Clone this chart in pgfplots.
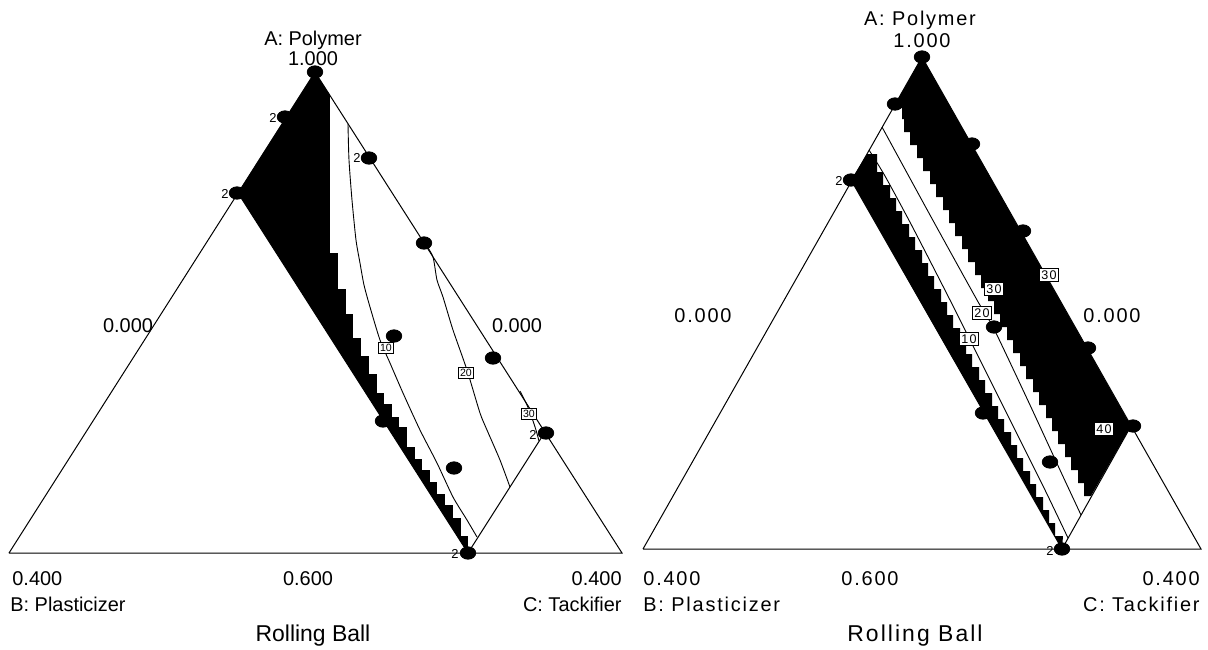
\documentclass[border=0pt]{standalone}
\usepackage{pgfplots}
\pgfplotsset{compat=1.18}
\usepackage{fontspec}
\setmainfont{Liberation Sans}
\newfontfamily\widefont[LetterSpace=9]{Liberation Sans}
\newcommand{\fs}[1]{\fontsize{#1}{#1}\selectfont}
\pgfplotsset{
  tern/.style={scale only axis, hide axis, clip=false, y dir=reverse, ymin=0, ymax=650, height=325bp},
  edge/.style={black, line width=0.5bp},
  cont/.style={black, line width=0.45bp, smooth, tension=0.4},
  pts/.style={only marks, mark=*, mark size=3.1bp, mark options={xscale=1.25, fill=black, draw=black}},
}
\tikzset{
  lab/.style={font=\fs{10}, inner sep=0pt},
  rep/.style={font=\fs{6.5}, inner sep=0pt, anchor=east},
  clab/.style={draw, fill=white, font=\fs{5.3}, inner sep=0.8bp, line width=0.35bp},
  clabr/.style={draw, fill=white, font=\widefont\fs{6.3}, inner sep=0.9bp, line width=0.35bp},
}
\begin{document}
\begin{tikzpicture}
% ---------------- left ternary plot ----------------
\begin{axis}[tern, at={(0,0)}, anchor=south west, width=315bp, xmin=0, xmax=630]
\addplot[fill=black, draw=none] coordinates {
(315,72) (330,95) (330,253) (338,253) (338,289) (346,289) (346,314) (353,314)
(353,338) (361,338) (361,356) (369,356) (369,374) (377,374) (377,393) (384,393)
(384,404) (392,404) (392,417) (399,417) (399,427) (407,427) (407,447) (415,447)
(415,459) (422,459) (422,470) (430,470) (430,482) (437,482) (437,494) (445,494)
(445,505) (453,505) (453,518) (461,518) (461,536) (468,536) (468,553) (238,193)
} -- cycle;
% triangle and constraints
\addplot[edge] coordinates {(9,553) (315,72) (622,553) (9,553)};
\addplot[edge] coordinates {(238,193) (468,553)};
\addplot[edge] coordinates {(468,553) (545,432)};
% contours
\addplot[cont] coordinates {(348,124) (349,160) (352,200) (356,240) (360,263) (364,285) (370,307) (380,340) (390,363) (403,393) (420,430) (437,463) (453,497) (467,520) (477,537)};
\addplot[cont] coordinates {(425,243) (433,257) (437,280) (443,297) (453,330) (467,370) (480,413) (487,430) (500,460) (510,487)};
\addplot[cont] coordinates {(520,391) (527,405) (532,418) (536,430) (539,441)};
% design points
\addplot[pts] coordinates {(315,72) (285,117) (237,193) (369,158) (424,243) (394,336) (493,358) (383,421) (454,468) (546,433) (468,553)};
\node[rep] at (axis cs:277,118) {2};
\node[rep] at (axis cs:229,194) {2};
\node[rep] at (axis cs:361,158) {2};
\node[rep] at (axis cs:537,435) {2};
\node[rep] at (axis cs:459,554) {2};
\node[clab] at (axis cs:386,348) {10};
\node[clab] at (axis cs:466,373) {20};
\node[clab] at (axis cs:529,414) {30};
% labels
\node[lab, anchor=base] at (axis cs:313,45) {A: Polymer};
\node[lab, anchor=base] at (axis cs:313,65) {1.000};
\node[lab, anchor=base] at (axis cs:128,332) {0.000};
\node[lab, anchor=base] at (axis cs:517,332) {0.000};
\node[lab, anchor=base west] at (axis cs:12,585) {0.400};
\node[lab, anchor=base] at (axis cs:308,585) {0.600};
\node[lab, anchor=base east] at (axis cs:622,585) {0.400};
\node[lab, anchor=base west] at (axis cs:10,611) {B: Plasticizer};
\node[lab, anchor=base east] at (axis cs:622,611) {C: Tackifier};
\node[lab, anchor=base, font=\fs{11.5}] at (axis cs:313,641) {Rolling Ball};
\end{axis}
% ---------------- right ternary plot ----------------
\begin{axis}[tern, at={(315bp,0)}, anchor=south west, width=289bp, xmin=630, xmax=1208]
\addplot[fill=black, draw=none] coordinates {
(867,154) (851,180) (1062,549) (1063,536) (1055,536) (1055,523) (1049,523) (1049,510)
(1043,510) (1043,497) (1036,497) (1036,484) (1030,484) (1030,471) (1023,471) (1023,458)
(1017,458) (1017,445) (1011,445) (1011,432) (1004,432) (1004,419) (998,419) (998,406)
(992,406) (992,393) (985,393) (985,380) (979,380) (979,367) (972,367) (972,354)
(966,354) (966,341) (960,341) (960,328) (953,328) (953,315) (947,315) (947,302)
(941,302) (941,289) (934,289) (934,276) (928,276) (928,263) (922,263) (922,250)
(915,250) (915,237) (909,237) (909,224) (902,224) (902,211) (896,211) (896,198)
(890,198) (890,185) (883,185) (883,172) (877,172) (877,154)
} -- cycle;
\addplot[fill=black, draw=none] coordinates {
(922,57) (1131,426) (1091,496) (1084,496) (1084,483) (1078,483) (1078,470) (1071,470)
(1071,457) (1065,457) (1065,444) (1058,444) (1058,431) (1052,431) (1052,418) (1046,418)
(1046,405) (1039,405) (1039,392) (1033,392) (1033,379) (1026,379) (1026,366) (1020,366)
(1020,353) (1013,353) (1013,340) (1007,340) (1007,327) (1000,327) (1000,314) (994,314)
(994,301) (988,301) (988,288) (981,288) (981,275) (975,275) (975,262) (968,262)
(968,249) (962,249) (962,236) (955,236) (955,223) (949,223) (949,210) (943,210)
(943,197) (936,197) (936,184) (930,184) (930,171) (923,171) (923,158) (917,158)
(917,145) (910,145) (910,132) (904,132) (904,119) (902,119) (902,108) (893,108)
} -- cycle;
\addplot[edge] coordinates {(643,549) (922,57) (1201,549) (643,549)};
\addplot[edge] coordinates {(851,180) (1062,549)};
\addplot[edge] coordinates {(1062,549) (1131,426)};
\addplot[cont] coordinates {(869,150) (885,176) (912,226) (950,300) (985,370) (1015,430) (1045,490) (1068,538)};
\addplot[cont] coordinates {(882,127) (930,215) (977,300) (994,329) (1030,405) (1060,470) (1081,515)};
\addplot[pts] coordinates {(922,57) (895,104) (851,180) (972,144) (1023,231) (1088,348) (994,327) (983,413) (1050,462) (1133,426) (1062,549)};
\node[rep] at (axis cs:843,181) {2};
\node[rep] at (axis cs:1054,551) {2};
\node[clabr] at (axis cs:994,289) {30};
\node[clabr] at (axis cs:1049,275) {30};
\node[clabr] at (axis cs:982,313) {20};
\node[clabr] at (axis cs:969,339) {10};
\node[clabr] at (axis cs:1104,429) {40};
\node[lab, anchor=base, font=\widefont\fs{10}] at (axis cs:920,25) {A: Polymer};
\node[lab, anchor=base, font=\widefont\fs{10}] at (axis cs:922,47) {1.000};
\node[lab, anchor=base, font=\widefont\fs{10}] at (axis cs:703,322) {0.000};
\node[lab, anchor=base, font=\widefont\fs{10}] at (axis cs:1112,322) {0.000};
\node[lab, anchor=base west, font=\widefont\fs{10}] at (axis cs:643,585) {0.400};
\node[lab, anchor=base, font=\widefont\fs{10}] at (axis cs:870,585) {0.600};
\node[lab, anchor=base east, font=\widefont\fs{10}] at (axis cs:1200,585) {0.400};
\node[lab, anchor=base west, font=\widefont\fs{10}] at (axis cs:643,611) {B: Plasticizer};
\node[lab, anchor=base east, font=\widefont\fs{10}] at (axis cs:1200,611) {C: Tackifier};
\node[lab, anchor=base, font=\widefont\fs{11.5}] at (axis cs:915,641) {Rolling Ball};
\end{axis}
\pgfresetboundingbox
\path (0,0) rectangle (604bp,325bp);
\end{tikzpicture}
\end{document}
